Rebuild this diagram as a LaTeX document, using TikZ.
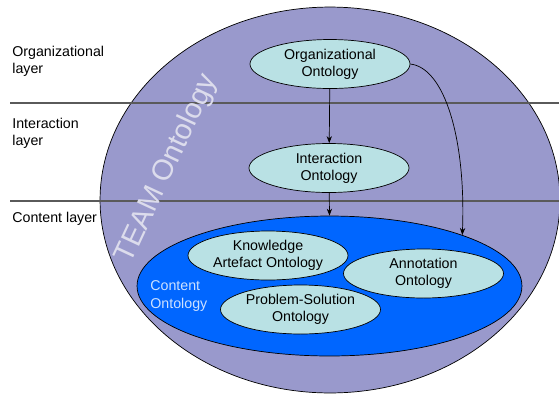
\documentclass[tikz,border=0pt]{standalone}
\usepackage{fontspec}
\setmainfont{Liberation Sans}
\usetikzlibrary{arrows.meta,positioning,shapes.geometric}
\definecolor{teampurple}{RGB}{153,153,204}
\definecolor{contentblue}{RGB}{0,102,255}
\definecolor{ontcyan}{RGB}{185,225,228}
\definecolor{linegray}{RGB}{90,90,90}
\definecolor{lighttext}{RGB}{205,225,255}
\definecolor{teamtext}{RGB}{220,220,236}

\begin{document}
\begin{tikzpicture}[x=0.02cm, y=-0.02cm, font=\fontsize{8.1}{9.7}\selectfont,
ont/.style={ellipse, draw=black, fill=ontcyan, minimum width=3.2cm, minimum height=0.98cm, inner sep=0pt, align=center},
layer/.style={anchor=west, align=left, inner sep=0pt},
sep/.style={draw=linegray, line width=0.8pt},
arrow/.style={-{Stealth[length=4pt,width=3pt]}, line width=0.4pt}]
\useasboundingbox (0,0) rectangle (559,397);
\node[ellipse, draw=black, fill=teampurple, minimum width=9.2cm, minimum height=7.72cm, inner sep=0pt] (team) at (330,200) {};
\coordinate (s1a) at (10,103);
\coordinate (s1b) at (559,103);
\coordinate (s2a) at (10,201);
\coordinate (s2b) at (559,201);
\draw[sep] (s1a)--(s1b);
\draw[sep] (s2a)--(s2b);
\node[layer] (orglayer) at (12,61) {Organizational\\layer};
\node[layer] (intlayer) at (12,133) {Interaction\\layer};
\node[layer] (conlayer) at (12,219) {Content layer};
\node[rotate=65, text=teamtext, font=\fontsize{16.5}{19}\selectfont, inner sep=0pt] (teamlabel) at (167,169) {TEAM Ontology};
\node[ellipse, draw=black, fill=contentblue, minimum width=7.7cm, minimum height=2.8cm, inner sep=0pt] (content) at (329.5,286) {};
\node[layer, text=lighttext] (conlabel) at (150,296) {Content\\Ontology};
\node[ont] (org) at (330,64) {Organizational\\Ontology};
\node[ont] (int) at (329,168) {Interaction\\Ontology};
\node[ont] (ka) at (268,255.5) {Knowledge\\Artefact Ontology};
\node[ont] (ann) at (423.5,273.5) {Annotation\\Ontology};
\node[ont] (ps) at (300.5,309.5) {Problem-Solution\\Ontology};
\draw[arrow] (org)--(int);
\draw[arrow] (int)--(content.north);
\draw[arrow] (org.east) .. controls (445,68) and (466,140) .. (content.21);
\end{tikzpicture}
\end{document}
